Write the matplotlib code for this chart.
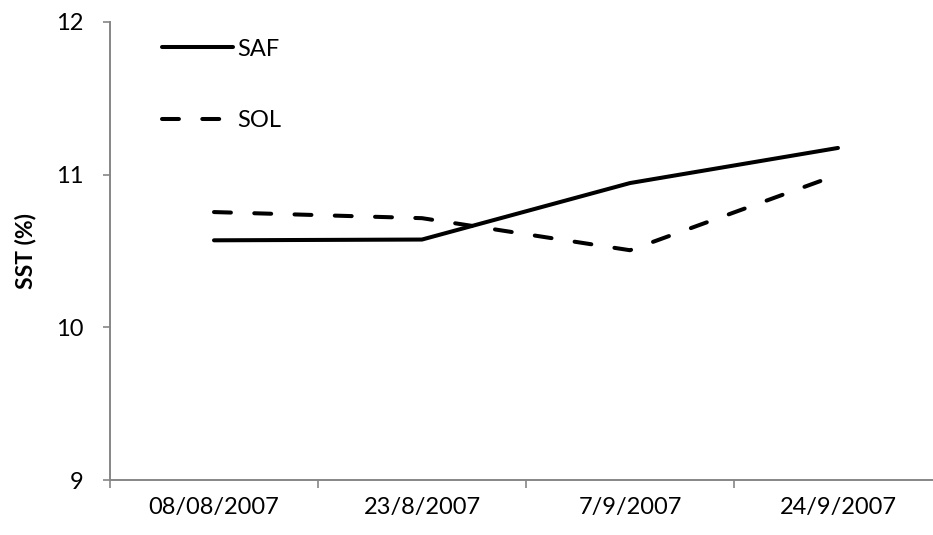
import matplotlib
matplotlib.use("Agg")
import matplotlib.pyplot as plt
from matplotlib.ticker import FixedLocator, NullFormatter

plt.rcParams['font.family'] = ['Lato', 'DejaVu Sans']

dates = ["08/08/2007", "23/8/2007", "7/9/2007", "24/9/2007"]
saf = [10.57, 10.575, 10.945, 11.175]
sol = [10.755, 10.715, 10.505, 11.0]

fig = plt.figure(figsize=(9.33, 5.35), dpi=100)
ax = fig.add_axes([0.1179, 0.1028, 0.8917, 0.8561])

x = list(range(1, len(dates) + 1))
lw = 2.9
ax.plot(x, saf, color="black", lw=lw, solid_capstyle="round",
        solid_joinstyle="round", label="SAF")
ax.plot(x, sol, color="black", lw=lw, dash_capstyle="round",
        dash_joinstyle="round", dashes=(4.2, 5.8), label="SOL")

ax.set_xlim(0.5, len(dates) + 0.5)
ax.set_ylim(9, 12)
ax.set_yticks([9, 10, 11, 12])
ax.set_xticks(x)
ax.set_xticklabels(dates)
ax.xaxis.set_minor_locator(FixedLocator([0.5, 1.5, 2.5, 3.5, 4.5]))
ax.xaxis.set_minor_formatter(NullFormatter())

grey = "#868686"
for side in ("top", "right"):
    ax.spines[side].set_visible(False)
for side in ("left", "bottom"):
    ax.spines[side].set_color(grey)
    ax.spines[side].set_linewidth(1.4)

fs = 17
ax.tick_params(axis="y", direction="out", length=5, width=1.2, color=grey,
               labelsize=fs, pad=14, labelcolor="black")
ax.tick_params(axis="x", which="major", length=0, labelsize=fs, pad=12,
               labelcolor="black")
ax.tick_params(axis="x", which="minor", direction="out", length=6,
               width=1.2, color=grey)

ax.set_ylabel("SST (%)", fontsize=fs - 0.5, fontweight="bold", labelpad=14)

leg = ax.legend(loc="upper left", bbox_to_anchor=(0.037, 1.01),
                frameon=False, fontsize=fs, handlelength=3.0,
                handletextpad=0.2, labelspacing=2.15)

fig.savefig("out.png", dpi=100)
